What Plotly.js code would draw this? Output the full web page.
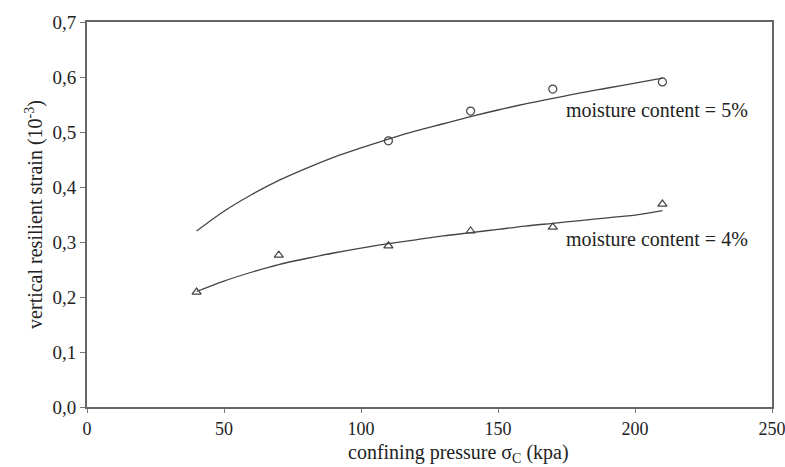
<!DOCTYPE html>
<html>
<head>
<meta charset="utf-8">
<script src="https://cdn.plot.ly/plotly-3.0.1.min.js"></script>
<style>html,body{margin:0;padding:0;background:#fff;}#chart{width:785px;height:467px;}</style>
</head>
<body>
<div id="chart"></div>
<script>
// measured points
const pressure5 = [110, 140, 170, 210];
const strain5 = [0.484, 0.538, 0.578, 0.591];
const pressure4 = [40, 70, 110, 140, 170, 210];
const strain4 = [0.209, 0.276, 0.293, 0.320, 0.327, 0.369];
// fitted trend curves
const fitX5 = [40, 50, 60, 70, 80, 90, 100, 110, 120, 130, 140, 150, 160, 170, 180, 190, 200, 210];
const fitY5 = [0.320, 0.356, 0.386, 0.412, 0.434, 0.454, 0.471, 0.487, 0.502, 0.515, 0.528, 0.540, 0.551, 0.561, 0.571, 0.580, 0.589, 0.598];
const fitX4 = [40, 50, 60, 70, 80, 90, 100, 110, 120, 130, 140, 150, 160, 170, 180, 190, 200, 210];
const fitY4 = [0.210, 0.229, 0.245, 0.259, 0.270, 0.280, 0.289, 0.297, 0.304, 0.311, 0.317, 0.323, 0.329, 0.334, 0.339, 0.344, 0.349, 0.357];
const xTicks = [0, 50, 100, 150, 200, 250];
const yTicks = [0, 0.1, 0.2, 0.3, 0.4, 0.5, 0.6, 0.7];
const labels = ["moisture content = 5%", "moisture content = 4%"];
const labelX = [174, 174];
const labelY = [0.540, 0.305];
const xTitle = 'confining pressure σ<sub>C</sub> (kpa)';
const yTitle = 'vertical resilient strain (10<sup>-3</sup>)';

const lineStyle = {color: '#444', width: 1.3, shape: 'spline'};
const markerStyle = (sym) => ({symbol: sym, size: 8, color: '#444', line: {color: '#444', width: 1.2}});

const data = [
  {x: fitX5, y: fitY5, mode: 'lines', line: lineStyle, hoverinfo: 'skip'},
  {x: fitX4, y: fitY4, mode: 'lines', line: lineStyle, hoverinfo: 'skip'},
  {x: pressure5, y: strain5, mode: 'markers', marker: markerStyle('circle-open')},
  {x: pressure4, y: strain4, mode: 'markers', marker: markerStyle('triangle-up-open')}
];

const font = {family: 'Liberation Serif, Times New Roman, serif', color: '#222'};

const annotations = labels.map((t, i) => ({
  x: labelX[i], y: labelY[i], xref: 'x', yref: 'y', text: t, showarrow: false,
  xanchor: 'left', yanchor: 'middle', font: Object.assign({size: 20}, font)
}));
annotations.push({
  x: 0.543, y: -0.121, xref: 'paper', yref: 'paper', text: xTitle, showarrow: false,
  xanchor: 'center', yanchor: 'middle', font: Object.assign({size: 20}, font)
});

const layout = {
  width: 785, height: 467,
  margin: {l: 87, r: 13, t: 22, b: 60},
  paper_bgcolor: '#fff', plot_bgcolor: '#fff',
  showlegend: false,
  separators: ',.',
  font: Object.assign({size: 18}, font),
  xaxis: {
    range: [0, 250], tickvals: xTicks, ticks: 'outside', ticklen: 4, tickcolor: '#777',
    showline: true, linecolor: '#666', linewidth: 2, mirror: true, showgrid: false, zeroline: false,
    tickfont: Object.assign({size: 18}, font), ticklabeloverflow: 'allow'
  },
  yaxis: {
    range: [0, 0.7], tickvals: yTicks, tickformat: '.1f', ticks: 'outside', ticklen: 5, tickcolor: '#777',
    showline: true, linecolor: '#666', linewidth: 2, mirror: true, showgrid: false, zeroline: false,
    tickfont: Object.assign({size: 19}, font), ticklabeloverflow: 'allow',
    title: {text: yTitle, font: Object.assign({size: 20}, font), standoff: 4}
  },
  annotations: annotations
};

Plotly.newPlot('chart', data, layout, {displayModeBar: false, staticPlot: true});
</script>
</body>
</html>
